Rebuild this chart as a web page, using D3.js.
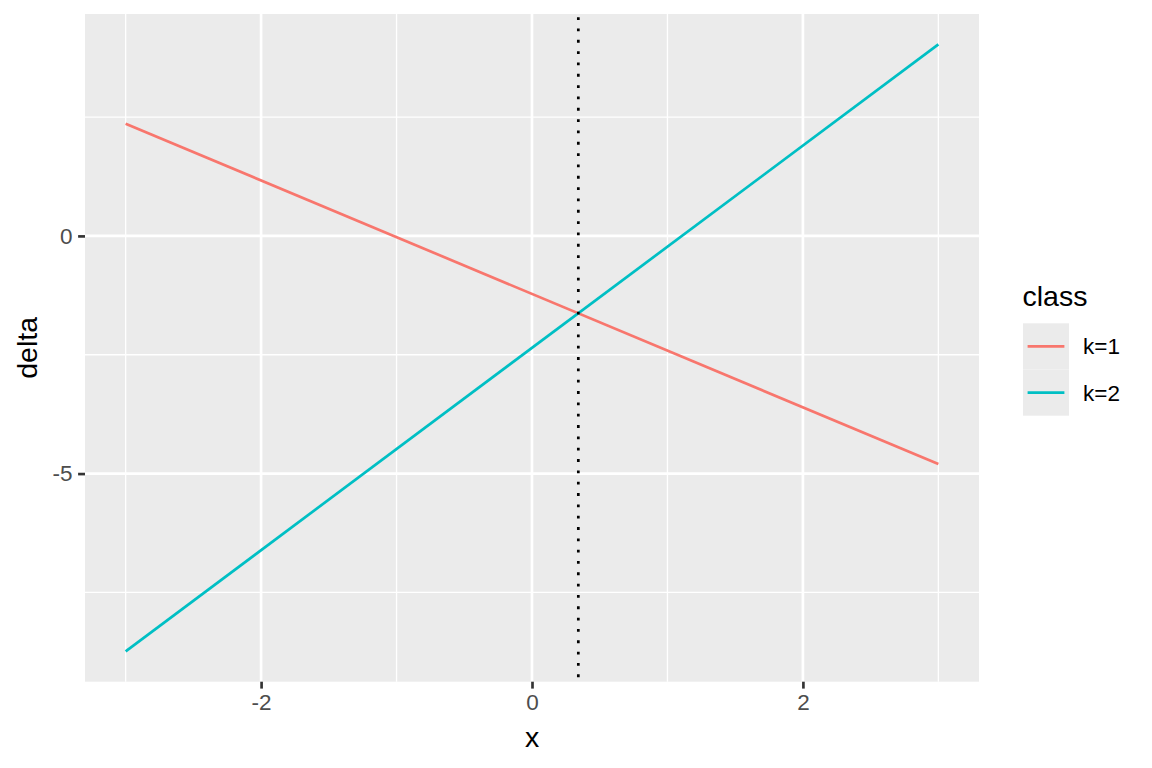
<!DOCTYPE html>
<html>
<head>
<meta charset="utf-8">
<script src="https://cdn.jsdelivr.net/npm/d3@7"></script>
<style>
  html, body { margin: 0; padding: 0; background: #ffffff; }
  svg { display: block; font-family: "Liberation Sans", Arial, Helvetica, sans-serif; }
</style>
</head>
<body>
<svg id="chart" width="1152" height="768"></svg>
<script>
// ---- data ----
const xValues = [-3, 3];
const k1Values = [2.36, -4.80];
const k2Values = [-8.74, 4.03];
const seriesNames = ["k=1", "k=2"];
const seriesColors = ["#F8766D", "#00BFC4"];
const boundaryX = 0.342;
const xTicks = [-2, 0, 2];
const xMinorTicks = [-3, -1, 1, 3];
const yTicks = [0, -5];
const yMinorTicks = [2.5, -2.5, -7.5];
const xTitle = "x";
const yTitle = "delta";
const legendTitle = "class";

// ---- layout ----
const W = 1152, H = 768;
const panel = { left: 85, right: 979, top: 14, bottom: 681.7 };

const svg = d3.select("#chart");

function expand(ext) {
  const r = ext[1] - ext[0];
  return [ext[0] - 0.05 * r, ext[1] + 0.05 * r];
}
const xExt = expand(d3.extent(xValues));
const yExt = expand(d3.extent(k1Values.concat(k2Values)));

const x = d3.scaleLinear().domain(xExt).range([panel.left, panel.right]);
const y = d3.scaleLinear().domain(yExt).range([panel.bottom, panel.top]);

// panel background
svg.append("rect")
  .attr("x", panel.left).attr("y", panel.top)
  .attr("width", panel.right - panel.left)
  .attr("height", panel.bottom - panel.top)
  .attr("fill", "#EBEBEB");

const grid = svg.append("g");
// minor grid
grid.selectAll(".ymin").data(yMinorTicks).join("line")
  .attr("x1", panel.left).attr("x2", panel.right)
  .attr("y1", d => y(d)).attr("y2", d => y(d))
  .attr("stroke", "#ffffff").attr("stroke-width", 1.33);
grid.selectAll(".xmin").data(xMinorTicks).join("line")
  .attr("y1", panel.top).attr("y2", panel.bottom)
  .attr("x1", d => x(d)).attr("x2", d => x(d))
  .attr("stroke", "#ffffff").attr("stroke-width", 1.33);
// major grid
grid.selectAll(".ymaj").data(yTicks).join("line")
  .attr("x1", panel.left).attr("x2", panel.right)
  .attr("y1", d => y(d)).attr("y2", d => y(d))
  .attr("stroke", "#ffffff").attr("stroke-width", 2.67);
grid.selectAll(".xmaj").data(xTicks).join("line")
  .attr("y1", panel.top).attr("y2", panel.bottom)
  .attr("x1", d => x(d)).attr("x2", d => x(d))
  .attr("stroke", "#ffffff").attr("stroke-width", 2.67);

// lines
const series = [k1Values, k2Values];
const line = d3.line().x((d, i) => x(xValues[i])).y(d => y(d));
svg.append("g").selectAll("path").data(series).join("path")
  .attr("d", d => line(d))
  .attr("fill", "none")
  .attr("stroke", (d, i) => seriesColors[i])
  .attr("stroke-width", 2.7)
  .attr("stroke-linecap", "butt");

// boundary dotted line
svg.append("line")
  .attr("x1", x(boundaryX)).attr("x2", x(boundaryX))
  .attr("y1", panel.top).attr("y2", panel.bottom)
  .attr("stroke", "#000000")
  .attr("stroke-width", 2.7)
  .attr("stroke-dasharray", "2.83 8.5")
  .attr("stroke-dashoffset", -3.2);

// axes
const xAxis = d3.axisBottom(x).tickValues(xTicks).tickSize(6.9).tickPadding(5.5).tickFormat(d3.format("d"));
const yAxis = d3.axisLeft(y).tickValues(yTicks).tickSize(6.9).tickPadding(5.5).tickFormat(d3.format("d"));

const gx = svg.append("g").attr("transform", `translate(0,${panel.bottom})`).call(xAxis);
const gy = svg.append("g").attr("transform", `translate(${panel.left},0)`).call(yAxis);
[gx, gy].forEach(g => {
  g.select(".domain").remove();
  g.selectAll(".tick line").attr("stroke", "#333333").attr("stroke-width", 2.67);
  g.selectAll(".tick text")
    .attr("fill", "#4D4D4D")
    .style("font-size", "22.5px")
    .style("font-family", '"Liberation Sans", Arial, sans-serif');
});
gx.selectAll(".tick text").text(d => d < 0 ? "-" + Math.abs(d) : d);
gy.selectAll(".tick text").text(d => d < 0 ? "-" + Math.abs(d) : d);

// axis titles
svg.append("text")
  .attr("x", (panel.left + panel.right) / 2)
  .attr("y", 746.5)
  .attr("text-anchor", "middle")
  .style("font-size", "28.5px")
  .attr("fill", "#000000")
  .text(xTitle);

svg.append("text")
  .attr("transform", `translate(37,${(panel.top + panel.bottom) / 2}) rotate(-90)`)
  .attr("text-anchor", "middle")
  .style("font-size", "28.5px")
  .attr("fill", "#000000")
  .text(yTitle);

// legend
const leg = svg.append("g");
leg.append("text")
  .attr("x", 1022.5).attr("y", 305.5)
  .style("font-size", "28.5px")
  .attr("fill", "#000000")
  .text(legendTitle);

const keyX = 1023, keyY = 323.3, keyW = 46, keyH = 46.2;
const items = leg.selectAll(".item").data(seriesNames).join("g")
  .attr("transform", (d, i) => `translate(${keyX},${keyY + i * keyH})`);
items.append("rect")
  .attr("width", keyW).attr("height", keyH)
  .attr("fill", "#EBEBEB");
items.append("line")
  .attr("x1", 4.6).attr("x2", keyW - 4.6)
  .attr("y1", keyH / 2).attr("y2", keyH / 2)
  .attr("stroke", (d, i) => seriesColors[i])
  .attr("stroke-width", 2.7);
items.append("text")
  .attr("x", 60).attr("y", keyH / 2 + 8)
  .style("font-size", "22.5px")
  .attr("fill", "#000000")
  .text(d => d);
</script>
</body>
</html>
